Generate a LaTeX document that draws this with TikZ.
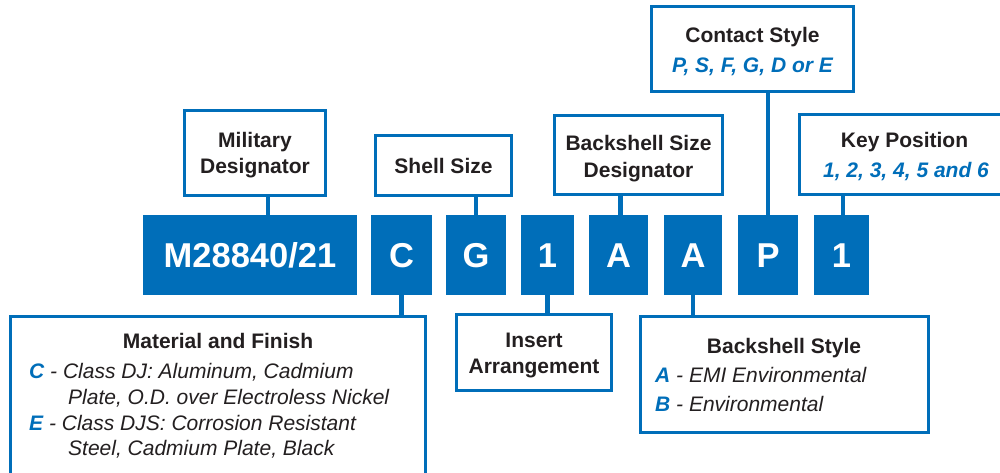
\documentclass[tikz,border=0pt]{standalone}
\usepackage{fontspec}
\setmainfont{Liberation Sans}
\definecolor{mblue}{RGB}{0,110,185}
\definecolor{mtext}{RGB}{35,31,32}
\tikzset{
  codebox/.style={fill=mblue, draw=none, minimum height=80pt, inner sep=0pt, text=white, font=\fontsize{34.5}{40}\selectfont\bfseries},
  labelbox/.style={draw=mblue, line width=3pt, fill=white, inner sep=0pt},
  conn/.style={draw=mblue, line width=4.5pt},
  ttl/.style={anchor=base, inner sep=0pt, text=mtext, font=\fontsize{21}{26}\selectfont\bfseries},
  val/.style={anchor=base, inner sep=0pt, text=mblue, font=\fontsize{21}{26}\selectfont\bfseries\itshape},
  body/.style={anchor=base west, inner sep=0pt, text=mtext, font=\fontsize{21}{26}\selectfont\itshape},
}
\newcommand{\bl}[1]{\textcolor{mblue}{\bfseries #1}}
\begin{document}
\begin{tikzpicture}[x=1pt,y=-1pt]
\useasboundingbox (0,0) rectangle (1000,472);
% label boxes
\node[labelbox, minimum width=141pt, minimum height=85pt] (mil) at (255,153) {};
\node[labelbox, minimum width=136pt, minimum height=60pt] (shell) at (443.5,165.5) {};
\node[labelbox, minimum width=168pt, minimum height=79pt] (bsd) at (638.5,155) {};
\node[labelbox, minimum width=202pt, minimum height=85pt] (contact) at (752.5,49) {};
\node[labelbox, minimum width=209pt, minimum height=80pt] (key) at (904,154.5) {};
\node[labelbox, minimum width=415pt, minimum height=163pt] (mat) at (218,398) {};
\node[labelbox, minimum width=155pt, minimum height=76pt] (ins) at (534,352.5) {};
\node[labelbox, minimum width=288pt, minimum height=116pt] (bss) at (784.5,374.5) {};
% code boxes
\node[codebox, minimum width=214pt] (m) at (250,255) {};
\node[codebox, minimum width=61pt] (c) at (401.5,255) {};
\node[codebox, minimum width=60pt] (g) at (476,255) {};
\node[codebox, minimum width=53pt] (one) at (547.5,255) {};
\node[codebox, minimum width=59pt] (a1) at (618.5,255) {};
\node[codebox, minimum width=58pt] (a2) at (693,255) {};
\node[codebox, minimum width=60pt] (p) at (768,255) {};
\node[codebox, minimum width=55pt] (one2) at (841.5,255) {};
% code texts
\node[anchor=base, inner sep=0pt, text=white, font=\fontsize{34.5}{40}\selectfont\bfseries] (tm) at (250,267) {M28840/21};
\node[anchor=base, inner sep=0pt, text=white, font=\fontsize{34.5}{40}\selectfont\bfseries] (tc) at (401.5,267) {C};
\node[anchor=base, inner sep=0pt, text=white, font=\fontsize{34.5}{40}\selectfont\bfseries] (tg) at (476,267) {G};
\node[anchor=base, inner sep=0pt, text=white, font=\fontsize{34.5}{40}\selectfont\bfseries] (tone) at (547.5,267) {1};
\node[anchor=base, inner sep=0pt, text=white, font=\fontsize{34.5}{40}\selectfont\bfseries] (ta1) at (618.5,267) {A};
\node[anchor=base, inner sep=0pt, text=white, font=\fontsize{34.5}{40}\selectfont\bfseries] (ta2) at (693,267) {A};
\node[anchor=base, inner sep=0pt, text=white, font=\fontsize{34.5}{40}\selectfont\bfseries] (tp) at (768,267) {P};
\node[anchor=base, inner sep=0pt, text=white, font=\fontsize{34.5}{40}\selectfont\bfseries] (tone2) at (841.5,267) {1};
% connectors
\draw[conn] ([xshift=18pt]m.north) -- ([xshift=18pt]m.north |- mil.south);
\draw[conn] (g.north) -- (g.north |- shell.south);
\draw[conn] ([xshift=2pt]a1.north) -- ([xshift=2pt]a1.north |- bsd.south);
\draw[conn] (p.north) -- (p.north |- contact.south);
\draw[conn] ([xshift=1.5pt]one2.north) -- ([xshift=1.5pt]one2.north |- key.south);
\draw[conn] (c.south) -- (c.south |- mat.north);
\draw[conn] (one.south) -- (one.south |- ins.north);
\draw[conn] (a2.south) -- (a2.south |- bss.north);
% label texts
\node[ttl] (mil1) at (255,147) {Military};
\node[ttl] (mil2) at (255,173) {Designator};
\node[ttl] (sh1) at (443.5,173) {Shell Size};
\node[ttl] (bsd1) at (638.5,150) {Backshell Size};
\node[ttl] (bsd2) at (638.5,177) {Designator};
\node[ttl] (cs1) at (752.5,42) {Contact Style};
\node[val] (cs2) at (752.5,72) {P, S, F, G, D or E};
\node[ttl] (kp1) at (904.5,147) {Key Position};
\node[val] (kp2) at (906,177) {1, 2, 3, 4, 5 and 6};
\node[ttl] (in1) at (534,347) {Insert};
\node[ttl] (in2) at (534,373) {Arrangement};
\node[ttl] (mt0) at (218,348) {Material and Finish};
\node[body] (mt1) at (29,378) {\bl{C} - Class DJ: Aluminum, Cadmium};
\node[body] (mt2) at (68,404) {Plate, O.D. over Electroless Nickel};
\node[body] (mt3) at (29,430) {\bl{E} - Class DJS: Corrosion Resistant};
\node[body] (mt4) at (68,455) {Steel, Cadmium Plate, Black};
\node[ttl] (bs0) at (784,353) {Backshell Style};
\node[body] (bs1) at (655,382) {\bl{A} - EMI Environmental};
\node[body] (bs2) at (655,411) {\bl{B} - Environmental};
\end{tikzpicture}
\end{document}
